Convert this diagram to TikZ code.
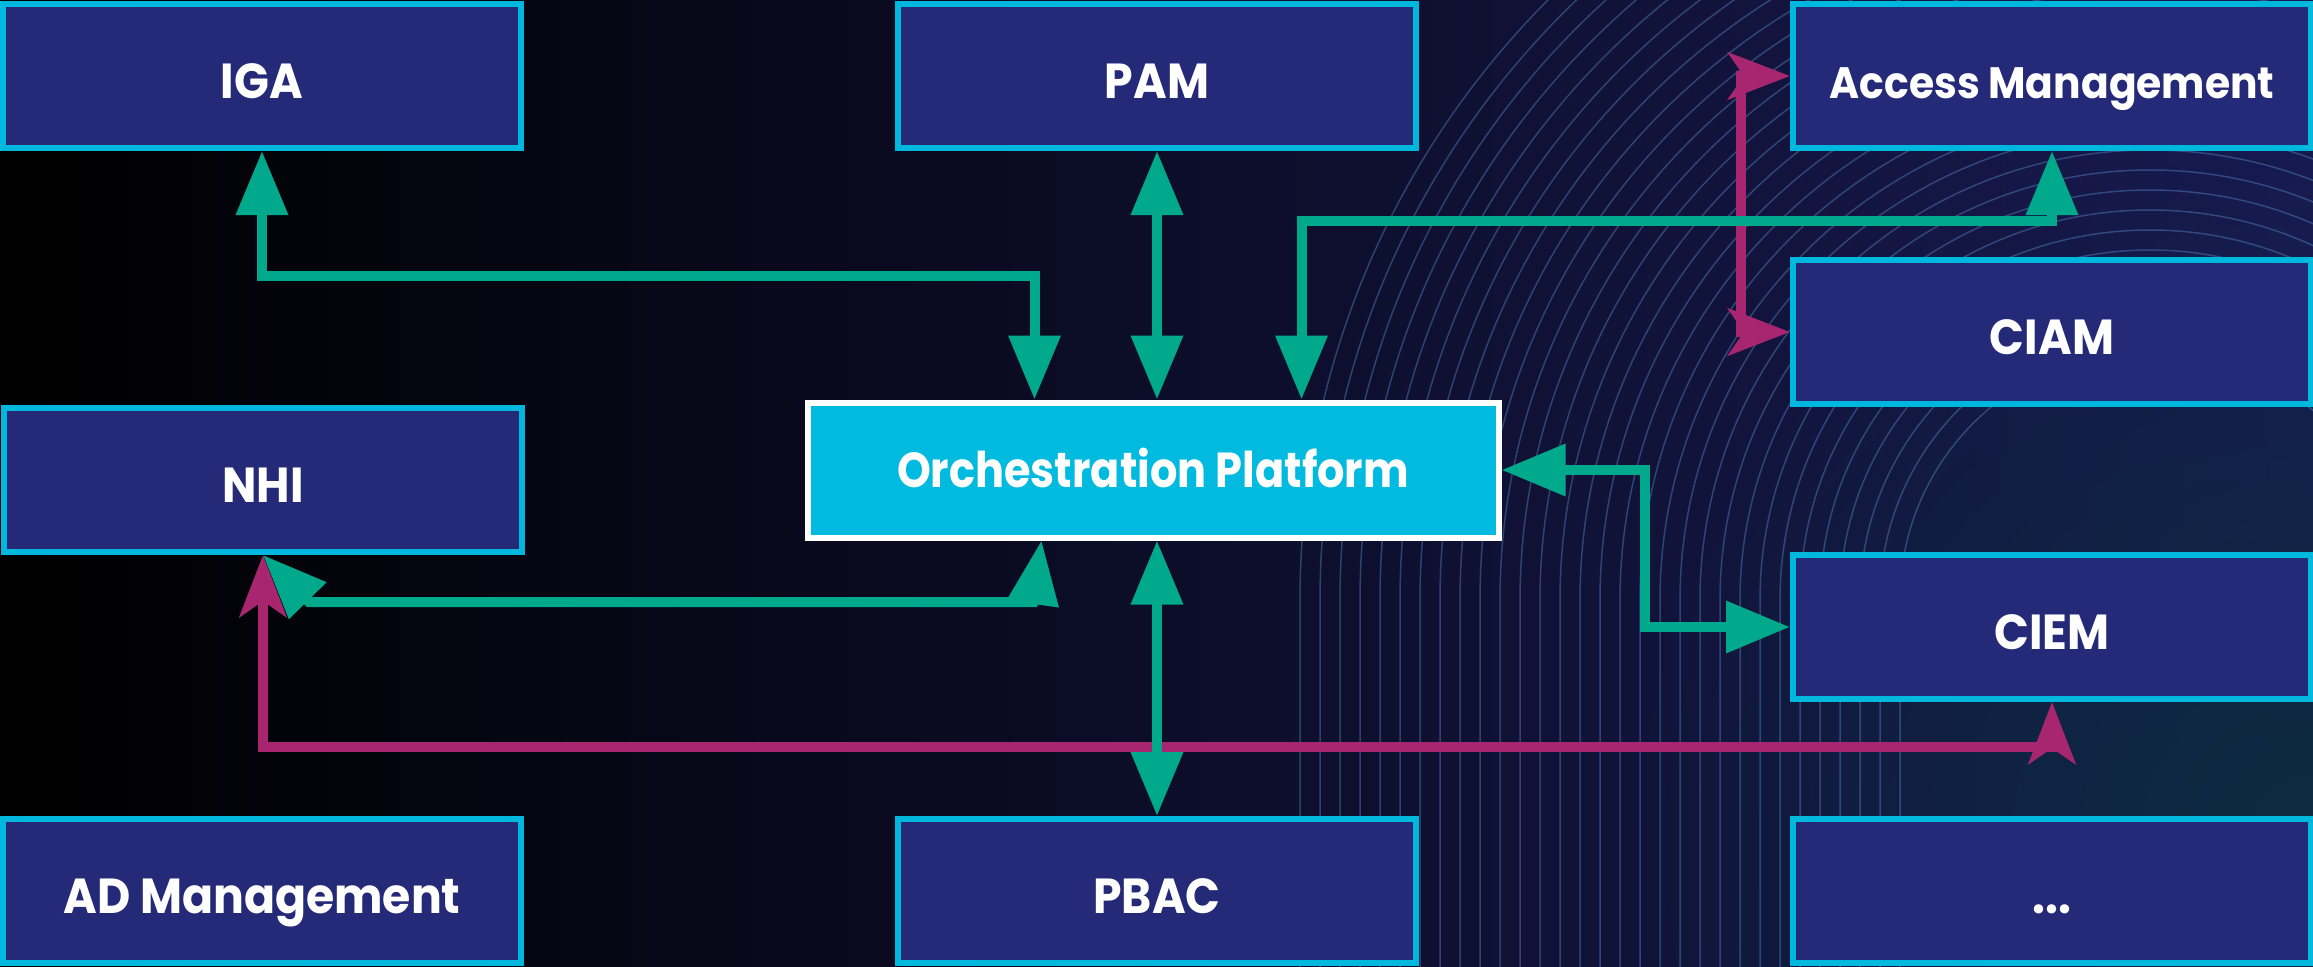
\documentclass[tikz,border=0pt]{standalone}
\usepackage{fontspec}
\setmainfont{Poppins}[FakeStretch=0.93]
\newfontfamily\hubfont{Poppins}[FakeStretch=0.875]
\usetikzlibrary{arrows.meta, calc, fadings}

\definecolor{boxblue}{HTML}{252A78}
\definecolor{boxedge}{HTML}{00B8DE}
\definecolor{hubcyan}{HTML}{00BADF}
\definecolor{linkgreen}{HTML}{00A98C}
\definecolor{linkpink}{HTML}{A8266F}
\definecolor{bgnavy}{HTML}{181A50}
\definecolor{bgteal}{HTML}{0C2C40}
\definecolor{ringblue}{HTML}{5A8FD0}

\tikzfading[name=softspot, inner color=transparent!0, outer color=transparent!100]

\begin{document}
\begin{tikzpicture}[x=0.1mm, y=-0.1mm, node distance=89.5mm,
    box/.style={rectangle, draw=boxedge, fill=boxblue, line width=0.6mm,
        minimum width=51.8mm, minimum height=14.4mm, inner sep=0pt,
        text=white, text height=4.4mm, text depth=0mm,
        font=\bfseries\fontsize{14}{16}\selectfont},
    hub/.style={box, draw=white, fill=hubcyan, minimum width=69.1mm, minimum height=13.5mm,
        text height=3.5mm, font=\hubfont\bfseries\fontsize{14}{16}\selectfont},
    ring/.style={draw=ringblue, line width=0.15mm, opacity=0.4},
    glink/.style={draw=linkgreen, line width=1mm, <->, >={Triangle[length=6.4mm, width=5mm]}},
    plink/.style={draw=linkpink, line width=1mm, <->, >={Stealth[length=6.2mm, width=4.7mm, inset=1.6mm]}}]

% background and contour lines
  \shade[left color=black, right color=bgnavy] (0,0) rectangle (2313,966);
  \useasboundingbox (0,0) rectangle (2313,966);
  \begin{scope}
    \clip (0,0) rectangle (2313,966);
    \fill[bgteal, path fading=softspot] (2313,850) circle (700);
    \foreach \r in {250,270,...,850}
      \draw[ring] (2150+\r,600) arc[start angle=0, end angle=-180, radius=\r] -- ++(0,400);
  \end{scope}

% define the boxes
  \node[box]    (iga)     at (262,76)         {IGA};
  \node[box]    (pam)     [right of=iga]      {PAM};
  \node[box, font=\bfseries\fontsize{12.5}{15}\selectfont]
                (am)      [right of=pam]      {Access Management};
  \node[box]    (ciam)    at (2052,332)       {CIAM};
  \node[box]    (nhi)     at (263,480)        {NHI};
  \node[hub]    (orch)    at (1153,470)       {Orchestration Platform};
  \node[box]    (ciem)    at (2052,627)       {CIEM};
  \node[box]    (adm)     at (262,891)        {AD Management};
  \node[box]    (pbac)    [right of=adm]      {PBAC};
  \node[box]    (more)    [right of=pbac]     {...};

% define the links
  \draw[plink]  (am.west) -- ++(-49,0) |- (ciam.west);
  \draw[plink]  (nhi.south) -- ++(0,192) -| (ciem.south);

  \draw[glink]  (iga.south) -- ++(0,125) -| ($(orch.north west)+(230,0)$);
  \draw[glink]  (pam.south) -- (pam.south |- orch.north);
  \draw[glink]  (am.south) -- ++(0,70) -| ($(orch.north east)+(-200,0)$);
  \draw[glink]  (orch.east) -- ++(143,0) |- (ciem.west);
  \draw[glink]  (nhi.south) -- ++(46,47) -- ++(724,0) -- ($(orch.south west)+(237,0)$);
  \draw[glink]  (pbac.north) -- (pbac.north |- orch.south);
\end{tikzpicture}
\end{document}
